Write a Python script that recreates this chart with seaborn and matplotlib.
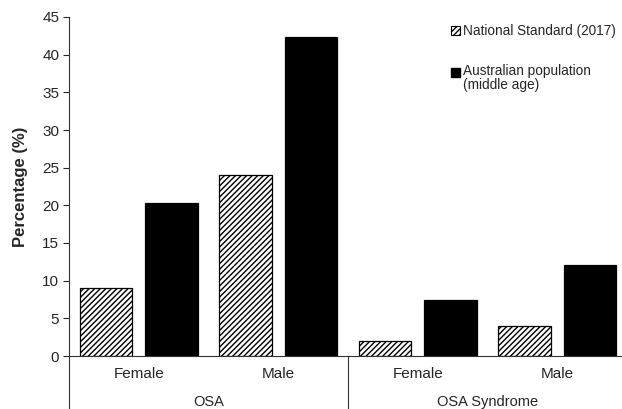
import matplotlib
matplotlib.use("Agg")
import matplotlib.pyplot as plt
import seaborn as sns
import pandas as pd
from matplotlib.patches import Patch, Rectangle
from matplotlib.lines import Line2D
from matplotlib.legend_handler import HandlerPatch

groups = ["OSA", "OSA", "OSA Syndrome", "OSA Syndrome"]
sexes = ["Female", "Male", "Female", "Male"]
series = ["National Standard (2017)", "Australian population\n(middle age)"]
national_standard = [9.0, 24.0, 2.0, 4.0]
australian_population = [20.3, 42.4, 7.5, 12.1]

rows = []
for i, (g, s) in enumerate(zip(groups, sexes)):
    rows.append({"cat": f"{g} {s}", "series": series[0], "value": national_standard[i]})
    rows.append({"cat": f"{g} {s}", "series": series[1], "value": australian_population[i]})
df = pd.DataFrame(rows)
order = [f"{g} {s}" for g, s in zip(groups, sexes)]

sns.set_style("white")
plt.rcParams["font.family"] = ["Liberation Sans", "DejaVu Sans"]
plt.rcParams["hatch.linewidth"] = 1.0

fig = plt.figure(figsize=(6.22, 4.09), dpi=100)
ax = fig.add_axes([69/622, 53/409, 558/622, 339/409])

sns.barplot(data=df, x="cat", y="value", hue="series", order=order, hue_order=series,
            palette=["white", "black"], width=0.94, gap=0.2, edgecolor="black",
            linewidth=0.9, legend=False, ax=ax, errorbar=None)

for bar in ax.containers[0]:
    bar.set_hatch("//////")
    bar.set_facecolor("white")
    bar.set_edgecolor("black")

ax.set_xlim(-0.5, 3.5)
ax.set_ylim(0, 45)
ax.set_yticks(range(0, 46, 5))
ax.set_xticks(range(4))
ax.set_xticklabels(sexes, fontsize=11)
ax.tick_params(axis="x", length=0, pad=8)
ax.tick_params(axis="y", direction="out", length=4, width=0.8, left=True, labelsize=11, pad=3)
ax.set_xlabel("")
ax.set_ylabel("Percentage (%)", fontsize=12, fontweight="bold", labelpad=10)

for side in ["top", "right"]:
    ax.spines[side].set_visible(False)
for side in ["left", "bottom"]:
    ax.spines[side].set_color("#333333")
    ax.spines[side].set_linewidth(0.8)

trans = ax.get_xaxis_transform()
for xv in [-0.5, 1.5, 3.5]:
    ax.add_line(Line2D([xv, xv], [0, -0.17], transform=trans, color="#333333", lw=0.8, clip_on=False))

group_names = ["OSA", "OSA Syndrome"]
for gi, name in enumerate(group_names):
    ax.text(0.5 + 2 * gi, -0.137, name, transform=trans, ha="center", va="center", fontsize=10.5)


def top_aligned(legend, orig_handle, xdescent, ydescent, width, height, fontsize):
    return Rectangle((-xdescent, -ydescent + 0.5 * fontsize), width, height)


handles = [Patch(facecolor="white", edgecolor="black", hatch="//////", linewidth=0.8),
           Patch(facecolor="black", edgecolor="black")]
leg = fig.legend(handles, series, loc="upper left", bbox_to_anchor=(451/622, 1 - 24/409),
                 frameon=False, fontsize=9.8, handlelength=0.65, handleheight=0.65,
                 handletextpad=0.25, labelspacing=1.9, borderaxespad=0, borderpad=0,
                 handler_map={handles[1]: HandlerPatch(patch_func=top_aligned)})
for t in leg.get_texts():
    t.set_linespacing(1.05)

fig.savefig("out.png", dpi=100)
